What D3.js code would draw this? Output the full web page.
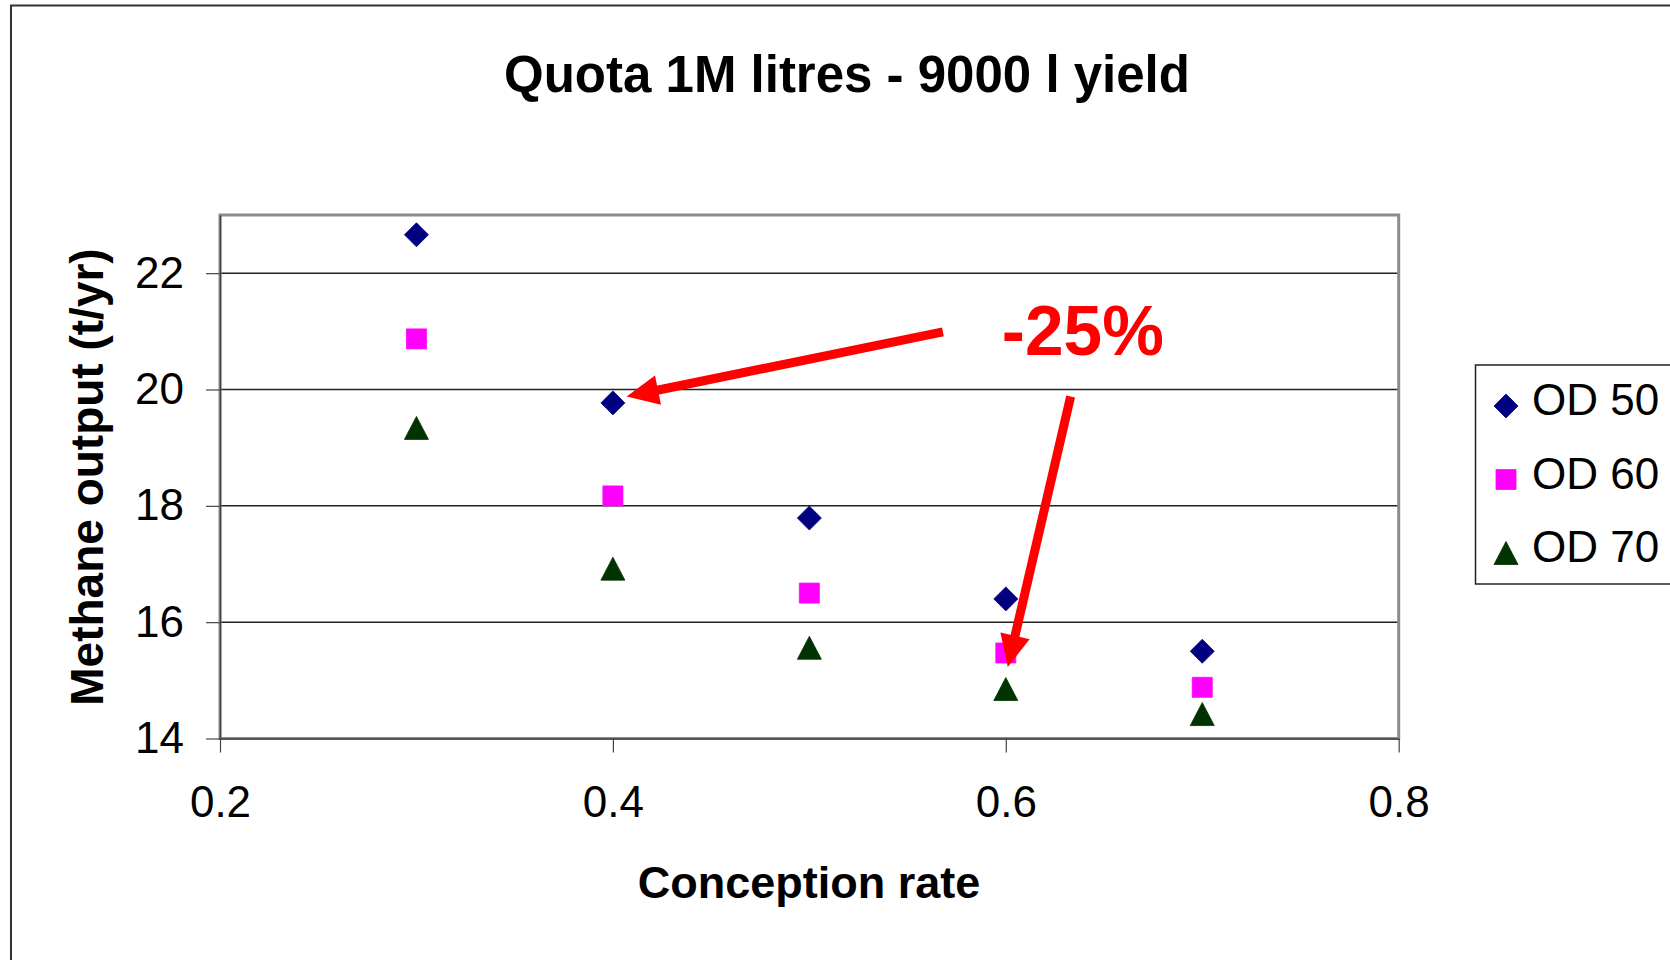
<!DOCTYPE html>
<meta charset="utf-8">
<html>
<style type='text/css'>
  body { margin:0; background:#fff; }
  text { font-family: "Liberation Sans", Arial, sans-serif; }
</style>
<script src="https://d3js.org/d3.v7.min.js"></script>
<body>
<svg id="chart" width="1670" height="960"></svg>
<script>

// data
var conceptionRate = [0.3, 0.4, 0.5, 0.6, 0.7];
var od50 = [22.66, 19.77, 17.79, 16.40, 15.50];
var od60 = [20.87, 18.17, 16.50, 15.47, 14.88];
var od70 = [19.34, 16.92, 15.56, 14.85, 14.42];
var seriesNames = ["OD 50", "OD 60", "OD 70"];
var xTicks = [0.2, 0.4, 0.6, 0.8];
var yTicks = [14, 16, 18, 20, 22];

var svg = d3.select("#chart");

// outer chart frame (cut off at right and bottom)
svg.append("rect")
  .attr("x", 11).attr("y", 5.5)
  .attr("width", 1800).attr("height", 1100)
  .attr("fill", "none").attr("stroke", "#333").attr("stroke-width", 2);

// plot area (window.top is reserved, so no bare "top" here)
var plotLeft = 220, plotRight = 1398.7, plotTop = 215, plotBottom = 738.5;

var x = d3.scaleLinear().domain([0.2, 0.8]).range([plotLeft, plotRight]);
var y = d3.scaleLinear().domain([14, 23]).range([plotBottom, plotTop]);

// gridlines
svg.append("g")
  .selectAll("line")
  .data(yTicks.filter(function(d) { return d > 14; }))
  .enter().append("line")
    .attr("x1", plotLeft).attr("x2", plotRight)
    .attr("y1", function(d) { return y(d); })
    .attr("y2", function(d) { return y(d); })
    .attr("stroke", "#222").attr("stroke-width", 1.5);

// plot area border
svg.append("rect")
  .attr("x", plotLeft).attr("y", plotTop)
  .attr("width", plotRight - plotLeft).attr("height", plotBottom - plotTop)
  .attr("fill", "none").attr("stroke", "#8c8c8c").attr("stroke-width", 3);

// axes
var yAxis = svg.append("g")
  .attr("transform", "translate(" + plotLeft + ",0)")
  .call(d3.axisLeft(y).tickValues(yTicks).tickSize(14).tickPadding(22).tickSizeOuter(0));
var xAxis = svg.append("g")
  .attr("transform", "translate(0," + plotBottom + ")")
  .call(d3.axisBottom(x).tickValues(xTicks).tickFormat(d3.format(".1f")).tickSize(14).tickPadding(33).tickSizeOuter(0));

[yAxis, xAxis].forEach(function(a) {
  a.select(".domain").attr("stroke", "#444").attr("stroke-width", 1.5);
  a.selectAll(".tick line").attr("stroke", "#444").attr("stroke-width", 1.2);
  a.selectAll("text")
    .style("font-family", "'Liberation Sans', Arial, sans-serif")
    .style("font-size", "44px").attr("fill", "#000");
});

// marker shapes
function markerPath(type) {
  if (type === 0) return "M0,-12L12,0L0,12L-12,0Z";
  if (type === 1) return "M-10,-10H10V10H-10Z";
  return "M0,-11.5L12,11.5H-12Z";
}
var colors = ["#000080", "#ff00ff", "#003300"];
var series = [od50, od60, od70];

series.forEach(function(vals, i) {
  svg.append("g")
    .selectAll("path")
    .data(vals)
    .enter().append("path")
      .attr("d", markerPath(i))
      .attr("transform", function(d, j) {
        return "translate(" + x(conceptionRate[j]) + "," + y(d) + ")";
      })
      .attr("fill", colors[i])
      .attr("stroke", colors[i]).attr("stroke-width", 0.8)
      .attr("stroke-linejoin", "round");
});

// titles
svg.append("text")
  .attr("x", 847).attr("y", 92)
  .attr("text-anchor", "middle")
  .style("font-size", "51px").style("font-weight", "bold")
  .text("Quota 1M litres - 9000 l yield");

svg.append("text")
  .attr("x", 809).attr("y", 898)
  .attr("text-anchor", "middle")
  .style("font-size", "45px").style("font-weight", "bold")
  .text("Conception rate");

svg.append("text")
  .attr("transform", "translate(103,477) rotate(-90)")
  .attr("text-anchor", "middle")
  .style("font-size", "46px").style("font-weight", "bold")
  .text("Methane output (t/yr)");

// legend
var legend = svg.append("g");
legend.append("rect")
  .attr("x", 1475.5).attr("y", 365)
  .attr("width", 400).attr("height", 219)
  .attr("fill", "#fff").attr("stroke", "#222").attr("stroke-width", 1.5);

seriesNames.forEach(function(name, i) {
  var cy = 406 + i * 73.5;
  legend.append("path")
    .attr("d", markerPath(i))
    .attr("transform", "translate(1506," + cy + ")")
    .attr("fill", colors[i]).attr("stroke", colors[i]).attr("stroke-width", 0.8)
    .attr("stroke-linejoin", "round");
  legend.append("text")
    .attr("x", 1532).attr("y", cy + 9)
    .style("font-size", "44px")
    .text(name);
});

// annotation: -25% with two arrows (in data units)
var arrows = [
  { from: [0.568, 20.99], to: [0.407, 19.88] },
  { from: [0.633, 19.88], to: [0.601, 15.23] }
];
arrows.forEach(function(a) {
  var x1 = x(a.from[0]), y1 = y(a.from[1]);
  var x2 = x(a.to[0]), y2 = y(a.to[1]);
  var dx = x2 - x1, dy = y2 - y1, len = Math.sqrt(dx * dx + dy * dy);
  var ux = dx / len, uy = dy / len;
  var hl = 32, hw = 15;
  var bx = x2 - ux * hl, by = y2 - uy * hl;
  svg.append("line")
    .attr("x1", x1).attr("y1", y1)
    .attr("x2", bx + ux * 2).attr("y2", by + uy * 2)
    .attr("stroke", "#ff0000").attr("stroke-width", 9);
  svg.append("path")
    .attr("d", "M" + x2 + "," + y2 +
      "L" + (bx - uy * hw) + "," + (by + ux * hw) +
      "L" + (bx + uy * hw) + "," + (by - ux * hw) + "Z")
    .attr("fill", "#ff0000");
});

svg.append("text")
  .attr("x", x(0.598)).attr("y", y(20.59))
  .attr("textLength", 162).attr("lengthAdjust", "spacingAndGlyphs")
  .style("font-size", "70px").style("font-weight", "bold")
  .attr("fill", "#ff0000")
  .text("-25%");

</script>
</body>
</html>
